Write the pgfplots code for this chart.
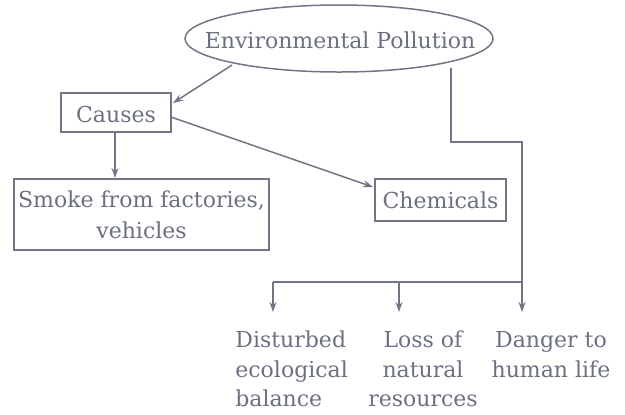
\documentclass[border=0pt]{standalone}
\usepackage{pgfplots}
\pgfplotsset{compat=1.18}
\usepackage{fontspec}
\setmainfont{DejaVu Serif}
\usetikzlibrary{shapes.geometric,arrows.meta}
\definecolor{ink}{RGB}{108,113,128}
\definecolor{lin}{RGB}{112,118,134}
\begin{document}
\begin{tikzpicture}
\begin{axis}[
  width=312.5pt, height=207pt, scale only axis,
  xmin=0, xmax=625, ymin=0, ymax=414, y dir=reverse,
  hide axis, clip=false,
  every axis plot/.append style={lin, line width=0.75pt},
]
\addplot[draw=none] coordinates {(0,0) (625,414)};
% connectors
\addplot[-{Stealth[length=5pt,width=3.5pt]}] coordinates {(232,65) (173,103)};
\addplot[-{Stealth[length=5pt,width=3.5pt]}] coordinates {(171,117) (373,187)};
\addplot[-{Stealth[length=5pt,width=3.5pt]}] coordinates {(115,132) (115,178)};
\addplot[-{Stealth[length=5pt,width=3.5pt]}] coordinates {(451,68) (451,142) (522,142) (522,312)};
\addplot[] coordinates {(273,282) (522,282)};
\addplot[-{Stealth[length=5pt,width=3.5pt]}] coordinates {(273,282) (273,312)};
\addplot[-{Stealth[length=5pt,width=3.5pt]}] coordinates {(399,282) (399,312)};
% shapes
\node[draw=lin, line width=0.75pt, ellipse, fill=white, minimum width=154pt, minimum height=33.5pt, inner sep=0pt] at (axis cs:339,38.5) {};
\node[draw=lin, line width=0.75pt, fill=white, minimum width=55pt, minimum height=19.5pt, inner sep=0pt] at (axis cs:116,112.5) {};
\node[draw=lin, line width=0.75pt, fill=white, minimum width=127.5pt, minimum height=35.5pt, inner sep=0pt] at (axis cs:141.5,214.5) {};
\node[draw=lin, line width=0.75pt, fill=white, minimum width=65.5pt, minimum height=21pt, inner sep=0pt] at (axis cs:440.5,200) {};
% texts
\tikzset{t/.style={text=ink, font=\fontsize{11}{15}\selectfont, inner sep=0pt}}
\node[t, anchor=base] at (axis cs:340,48) {Environmental Pollution};
\node[t, anchor=base] at (axis cs:116,122) {Causes};
\node[t, anchor=base] at (axis cs:141.5,207) {Smoke from factories,};
\node[t, anchor=base] at (axis cs:141.5,238) {vehicles};
\node[t, anchor=base] at (axis cs:440.5,208) {Chemicals};
\node[t, anchor=base west] at (axis cs:235,347) {Disturbed};
\node[t, anchor=base west] at (axis cs:235,377) {ecological};
\node[t, anchor=base west] at (axis cs:235,406) {balance};
\node[t, anchor=base] at (axis cs:423,347) {Loss of};
\node[t, anchor=base] at (axis cs:423,377) {natural};
\node[t, anchor=base] at (axis cs:423,406) {resources};
\node[t, anchor=base] at (axis cs:551,347) {Danger to};
\node[t, anchor=base] at (axis cs:551,377) {human life};
\end{axis}
\end{tikzpicture}
\end{document}
